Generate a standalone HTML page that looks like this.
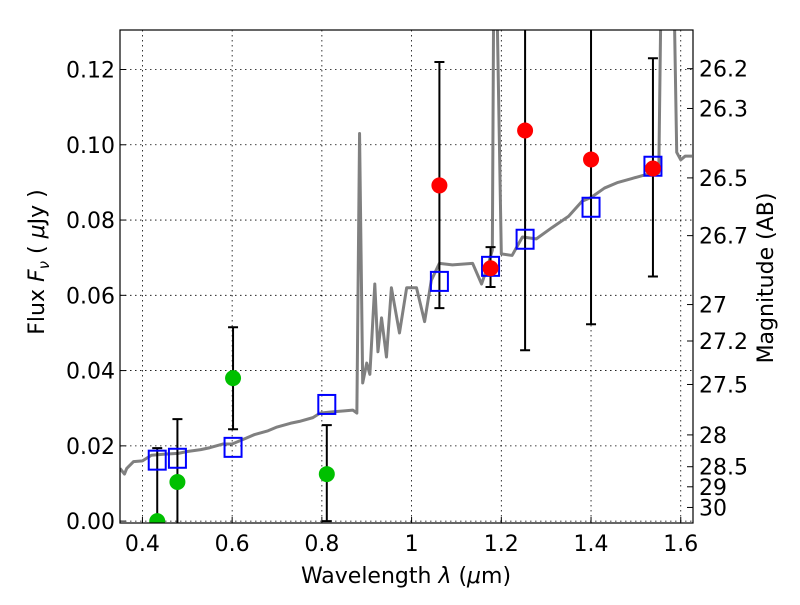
<!DOCTYPE html>
<html><head><meta charset="utf-8"><style>
body{margin:0;background:#fff;}
svg text{font-family:"DejaVu Sans","Liberation Sans",sans-serif;}
</style></head><body>
<svg id="chart" width="800" height="600" xmlns="http://www.w3.org/2000/svg">
<defs><clipPath id="clip"><rect x="120" y="30" width="573" height="493"/></clipPath></defs>
<g id="grid"></g>
<g id="plot" clip-path="url(#clip)"></g>
<rect x="120" y="30" width="573" height="493" fill="none" stroke="#000" stroke-width="1.2"/>
<g id="axes"></g>
<text x="406" y="583" font-size="22" text-anchor="middle">Wavelength  <tspan font-style="italic">λ</tspan> (<tspan font-style="italic">μ</tspan>m)</text>
<text transform="translate(44,262) rotate(-90)" font-size="22" text-anchor="middle">Flux  <tspan font-style="italic">F</tspan><tspan font-style="italic" font-size="15" dy="5">ν</tspan><tspan dy="-5">  ( </tspan><tspan font-style="italic">μ</tspan>Jy )</text>
<text transform="translate(773,278) rotate(-90)" font-size="22" text-anchor="middle">Magnitude (AB)</text>
</svg>
<script>
const specLam=[0.35,0.36,0.365,0.38,0.4,0.42,0.45,0.48,0.5,0.53,0.55,0.58,0.6,0.63,0.65,0.68,0.7,0.73,0.75,0.78,0.796,0.82,0.85,0.869,0.878,0.884,0.891,0.9,0.907,0.918,0.925,0.933,0.944,0.955,0.973,0.989,1.011,1.029,1.044,1.062,1.091,1.136,1.156,1.169,1.18,1.183,1.19,1.2,1.224,1.247,1.278,1.313,1.35,1.38,1.4,1.43,1.46,1.49,1.52,1.551,1.556,1.585,1.591,1.6,1.61,1.625];
const specFlux=[0.014,0.0125,0.014,0.0158,0.016,0.0175,0.0178,0.018,0.0185,0.019,0.0195,0.0205,0.0205,0.022,0.023,0.024,0.025,0.026,0.0265,0.0275,0.0287,0.029,0.0293,0.0295,0.0287,0.103,0.0367,0.042,0.039,0.063,0.045,0.054,0.0436,0.062,0.050,0.062,0.062,0.053,0.064,0.0685,0.0681,0.0685,0.063,0.0675,0.072,0.14,0.14,0.071,0.0706,0.0755,0.075,0.078,0.081,0.085,0.086,0.0885,0.09,0.091,0.092,0.0925,0.14,0.14,0.098,0.096,0.097,0.097];
const modelLam=[0.433,0.478,0.602,0.811,1.062,1.176,1.253,1.40,1.538];
const modelFlux=[0.0162,0.0167,0.0196,0.031,0.0637,0.0677,0.0749,0.0834,0.0943];
const redLam=[1.062,1.176,1.253,1.40,1.538];
const redFlux=[0.0892,0.0672,0.1038,0.0961,0.0937];
const redLo=[0.0566,0.0622,0.0454,0.0523,0.065];
const redHi=[0.122,0.0728,0.16,0.16,0.123];
const greenLam=[0.433,0.478,0.602,0.811];
const greenFlux=[0.0,0.0104,0.038,0.0125];
const greenLo=[0.0,-0.01,0.0244,0.0];
const greenHi=[0.0194,0.0271,0.0515,0.0255];
const xTicks=[0.4,0.6,0.8,1.0,1.2,1.4,1.6];
const xTickLabels=["0.4","0.6","0.8","1","1.2","1.4","1.6"];
const yTicks=[0,0.02,0.04,0.06,0.08,0.10,0.12];
const yTickLabels=["0.00","0.02","0.04","0.06","0.08","0.10","0.12"];
const magTicks=[26.2,26.3,26.5,26.7,27,27.2,27.5,28,28.5,29,30];
const magTickLabels=["26.2","26.3","26.5","26.7","27","27.2","27.5","28","28.5","29","30"];

const NS="http://www.w3.org/2000/svg";
const X0=120,X1=693,Y0=523,Y1=30,XMIN=0.35,XMAX=1.6273,YMIN=-0.0005,YMAX=0.1305;
function sx(v){return X0+(v-XMIN)/(XMAX-XMIN)*(X1-X0);}
function sy(v){return Y0-(v-YMIN)/(YMAX-YMIN)*(Y0-Y1);}
function mk(tag,attrs,parent){const e=document.createElementNS(NS,tag);for(const k in attrs)e.setAttribute(k,attrs[k]);parent.appendChild(e);return e;}
const grid=document.getElementById('grid'),plot=document.getElementById('plot'),axes=document.getElementById('axes');

xTicks.forEach((t,i)=>{
  const x=sx(t);
  const g=mk('line',{x1:x,x2:x,y1:Y1,y2:Y0,stroke:'#000','stroke-width':0.8,'stroke-dasharray':'1.5,3.5'},grid);
  
  
  const tk=mk('line',{x1:x,x2:x,y1:Y0,y2:Y0-6,stroke:'#000'},axes);
  
  
  const tx=mk('text',{x:x,y:Y0+28,'font-size':22,'text-anchor':'middle'},axes);
  tx.textContent=xTickLabels[i];
  
  
});
yTicks.forEach((t,i)=>{
  const y=sy(t);
  const g=mk('line',{x1:X0,x2:X1,y1:y,y2:y,stroke:'#000','stroke-width':0.8,'stroke-dasharray':'1.5,3.5'},grid);
  
  
  const tk=mk('line',{x1:X0,x2:X0+6,y1:y,y2:y,stroke:'#000'},axes);
  
  
  const tx=mk('text',{x:X0-5,y:y+8,'font-size':22,'text-anchor':'end'},axes);
  tx.textContent=yTickLabels[i];
  
  
});
magTicks.forEach((m,i)=>{
  const f=Math.pow(10,(23.9-m)/2.5);const y=sy(f);
  const tk=mk('line',{x1:X1-6,x2:X1,y1:y,y2:y,stroke:'#000'},axes);
  
  
  const tx=mk('text',{x:X1+6,y:y+8,'font-size':22},axes);
  tx.textContent=magTickLabels[i];
  
  
});

const sp=mk('polyline',{points:specLam.map((l,i)=>sx(l)+','+sy(specFlux[i])).join(' '),fill:'none',stroke:'#808080','stroke-width':3,'stroke-linejoin':'round'},plot);



function errbar(l,lo,hi,name){
  const x=sx(l),ya=sy(lo),yb=sy(hi);
  const e=mk('path',{d:`M${x},${ya}V${yb}M${x-5},${ya}H${x+5}M${x-5},${yb}H${x+5}`,stroke:'#000','stroke-width':2,fill:'none'},plot);
  
  
}
greenLam.forEach((l,i)=>errbar(l,greenLo[i],greenHi[i],'green-errorbar'));
redLam.forEach((l,i)=>errbar(l,redLo[i],redHi[i],'red-errorbar'));
modelLam.forEach((l,i)=>{
  const r=mk('rect',{x:sx(l)-8.5,y:sy(modelFlux[i])-9.5,width:17,height:19,fill:'none',stroke:'#0000ff','stroke-width':2},plot);
  
  
});
greenLam.forEach((l,i)=>{
  const c=mk('circle',{cx:sx(l),cy:sy(greenFlux[i]),r:8,fill:'#00c000'},plot);
  
  
});
redLam.forEach((l,i)=>{
  const c=mk('circle',{cx:sx(l),cy:sy(redFlux[i]),r:8,fill:'#ff0000'},plot);
  
  
});
</script>
</body></html>
